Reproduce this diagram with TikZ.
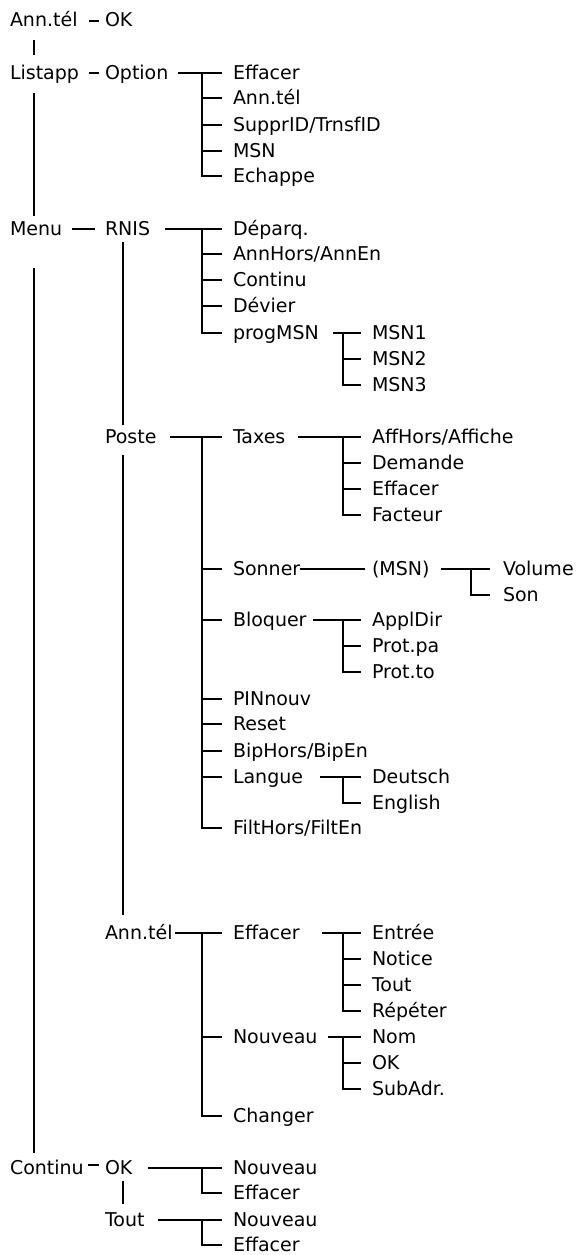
\documentclass[tikz,border=0pt]{standalone}
\usepackage{fontspec}
\setmainfont{DejaVu Sans}
\newcommand\tbr[5]{%
  \draw (#1.east -| #2,0) -- ([xshift=-11pt]#3.west);
  \draw ([xshift=-#5pt]#3.west) |- ([xshift=-11pt]#4.west);
}
\newcommand\tck[2]{\draw ([xshift=-#2pt]#1.west) -- ([xshift=-11pt]#1.west);}
\begin{document}
\begin{tikzpicture}[x=1pt,y=-1pt,
  lbl/.style={anchor=base west,inner sep=0pt,outer sep=0pt,text height=13.5pt,text depth=1.5pt,font=\fontsize{19}{22}\selectfont},
  every path/.style={line width=1.6pt}]
\useasboundingbox (0,0) rectangle (576,1255);
\coordinate (vx) at (34,0);
\coordinate (vy) at (123,0);
% column 1
\node[lbl] (a0) at (10,27) {Ann.tél};
\node[lbl] (l0) at (10,79) {Listapp};
\node[lbl] (m0) at (10,235) {Menu};
\node[lbl] (c0) at (10,1174) {Continu};
% column 2
\node[lbl] (ok0) at (105,27) {OK};
\node[lbl] (opt) at (105,79) {Option};
\node[lbl] (rnis) at (105,235) {RNIS};
\node[lbl] (poste) at (105,443) {Poste};
\node[lbl] (annt) at (105,939) {Ann.tél};
\node[lbl] (okc) at (105,1174) {OK};
\node[lbl] (tout) at (105,1226) {Tout};
% column 3
\node[lbl] (o1) at (233,79) {Effacer};
\node[lbl] (o2) at (233,104) {Ann.tél};
\node[lbl] (o3) at (233,131) {SupprID/TrnsfID};
\node[lbl] (o4) at (233,157) {MSN};
\node[lbl] (o5) at (233,182) {Echappe};
\node[lbl] (r1) at (233,235) {Déparq.};
\node[lbl] (r2) at (233,260) {AnnHors/AnnEn};
\node[lbl] (r3) at (233,286) {Continu};
\node[lbl] (r4) at (233,312) {Dévier};
\node[lbl] (r5) at (233,339) {progMSN};
\node[lbl] (p1) at (233,443) {Taxes};
\node[lbl] (p2) at (233,575) {Sonner};
\node[lbl] (p3) at (233,626) {Bloquer};
\node[lbl] (p4) at (233,705) {PINnouv};
\node[lbl] (p5) at (233,730) {Reset};
\node[lbl] (p6) at (233,757) {BipHors/BipEn};
\node[lbl] (p7) at (233,783) {Langue};
\node[lbl] (p8) at (233,834) {FiltHors/FiltEn};
\node[lbl] (t1) at (233,939) {Effacer};
\node[lbl] (t2) at (233,1043) {Nouveau};
\node[lbl] (t3) at (233,1122) {Changer};
\node[lbl] (k1) at (233,1174) {Nouveau};
\node[lbl] (k2) at (233,1199) {Effacer};
\node[lbl] (u1) at (233,1226) {Nouveau};
\node[lbl] (u2) at (233,1251) {Effacer};
% column 4
\node[lbl] (g1) at (372,339) {MSN1};
\node[lbl] (g2) at (372,365) {MSN2};
\node[lbl] (g3) at (372,391) {MSN3};
\node[lbl] (x1) at (372,443) {AffHors/Affiche};
\node[lbl] (x2) at (372,469) {Demande};
\node[lbl] (x3) at (372,495) {Effacer};
\node[lbl] (x4) at (372,521) {Facteur};
\node[lbl] (msn) at (372,575) {(MSN)};
\node[lbl] (b1) at (372,626) {ApplDir};
\node[lbl] (b2) at (372,652) {Prot.pa};
\node[lbl] (b3) at (372,678) {Prot.to};
\node[lbl] (d1) at (372,783) {Deutsch};
\node[lbl] (d2) at (372,809) {English};
\node[lbl] (e1) at (372,939) {Entrée};
\node[lbl] (e2) at (372,965) {Notice};
\node[lbl] (e3) at (372,991) {Tout};
\node[lbl] (e4) at (372,1017) {Répéter};
\node[lbl] (n1) at (372,1043) {Nom};
\node[lbl] (n2) at (372,1069) {OK};
\node[lbl] (n3) at (372,1095) {SubAdr.};
% column 5
\node[lbl] (v1) at (503,575) {Volume};
\node[lbl] (v2) at (503,601) {Son};
% dashes
\draw (a0.east -| 89,0) -- ([xshift=-6pt]ok0.west);
\draw (l0.east -| 89,0) -- ([xshift=-6pt]opt.west);
\draw (m0.east -| 72,0) -- ([xshift=-10pt]rnis.west);
\draw ([yshift=3pt]c0.east -| 88,0) -- ([xshift=-6pt,yshift=3pt]okc.west);
% vertical spines
\draw[shorten <=11.5pt,shorten >=10.5pt] (a0.south -| vx) -- (l0.north -| vx);
\draw[shorten <=12.5pt,shorten >=5.5pt] (l0.south -| vx) -- (m0.north -| vx);
\draw[shorten <=31.5pt,shorten >=7.5pt] (m0.south -| vx) -- (c0.north -| vx);
\draw[shorten <=5.5pt,shorten >=4.5pt] (rnis.south -| vy) -- (poste.north -| vy);
\draw[shorten <=10.5pt,shorten >=10.5pt] (poste.south -| vy) -- (annt.north -| vy);
\draw[shorten <=5.5pt,shorten >=8.5pt] (okc.south -| vy) -- (tout.north -| vy);
% brackets
\tbr{opt}{178}{o1}{o5}{31} \tck{o2}{31} \tck{o3}{31} \tck{o4}{31}
\tbr{rnis}{165}{r1}{r5}{31} \tck{r2}{31} \tck{r3}{31} \tck{r4}{31}
\tbr{poste}{170}{p1}{p8}{31} \tck{p2}{31} \tck{p3}{31} \tck{p4}{31} \tck{p5}{31} \tck{p6}{31} \tck{p7}{31}
\tbr{annt}{175}{t1}{t3}{31} \tck{t2}{31}
\tbr{okc}{148}{k1}{k2}{31}
\tbr{tout}{158}{u1}{u2}{31}
\tbr{r5}{333}{g1}{g3}{29} \tck{g2}{29}
\tbr{p1}{298}{x1}{x4}{29} \tck{x2}{29} \tck{x3}{29}
\draw (p2.east) -- ([xshift=-7pt]msn.west);
\tbr{p3}{313}{b1}{b3}{29} \tck{b2}{29}
\tbr{p7}{320}{d1}{d2}{29}
\tbr{t1}{322}{e1}{e4}{29} \tck{e2}{29} \tck{e3}{29}
\tbr{t2}{328}{n1}{n3}{29} \tck{n2}{29}
\draw (msn.east -| 441,0) -- ([xshift=-13pt]v1.west);
\draw ([xshift=-32pt]v1.west) |- ([xshift=-13pt]v2.west);
\end{tikzpicture}
\end{document}
